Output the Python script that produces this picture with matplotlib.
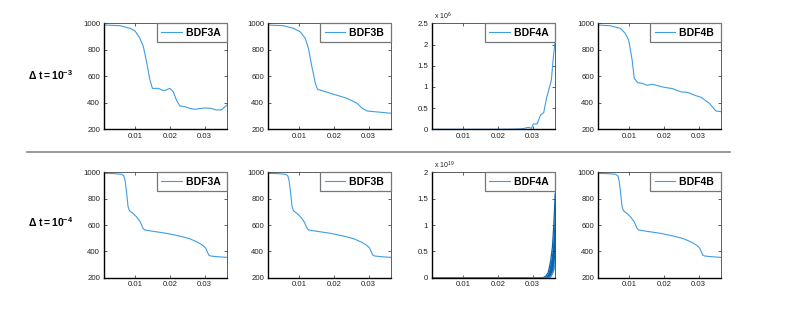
import matplotlib
matplotlib.use("Agg")
import matplotlib.pyplot as plt
from matplotlib.lines import Line2D
from matplotlib.ticker import FormatStrFormatter, FuncFormatter

plt.rcParams['font.family'] = ['Liberation Sans', 'DejaVu Sans']
plt.rcParams['mathtext.fontset'] = 'custom'
plt.rcParams['mathtext.rm'] = 'Liberation Sans'
plt.rcParams['mathtext.bf'] = 'Liberation Sans:bold'
plt.rcParams['mathtext.it'] = 'Liberation Sans:italic'

# ---------------- data ----------------
row_labels = [r'$\mathbf{\Delta\ t{=}10^{-3}}$', r'$\mathbf{\Delta\ t{=}10^{-4}}$']
names = ['BDF3A', 'BDF3B', 'BDF4A', 'BDF4B']
xticks = [0.01, 0.02, 0.03]
yticks_T = [200, 400, 600, 800, 1000]

# dt = 1e-3
t1_bdf3a_x = [0.001, 0.0057, 0.0086, 0.010, 0.0114, 0.0124, 0.0133, 0.0143, 0.0150, 0.0167,
              0.0181, 0.0190, 0.0200, 0.0210, 0.0219, 0.0229, 0.0243, 0.0257, 0.0271, 0.0286,
              0.0300, 0.0319, 0.0333, 0.0348, 0.0365]
t1_bdf3a_y = [987, 982, 962, 942, 887, 824, 711, 572, 509, 509,
              492, 497, 509, 484, 421, 376, 371, 358, 351, 356,
              361, 358, 346, 346, 384]

t1_bdf3b_x = [0.001, 0.0055, 0.0084, 0.0103, 0.0118, 0.0127, 0.0137, 0.0147, 0.0153, 0.0166,
              0.0200, 0.0238, 0.0267, 0.0282, 0.0296, 0.0325, 0.0365]
t1_bdf3b_y = [987, 982, 962, 937, 887, 811, 673, 547, 502, 492,
              464, 434, 396, 358, 338, 331, 321]

t1_bdf4a_x = [0.001, 0.0200, 0.0250, 0.0273, 0.0288, 0.0297, 0.0302, 0.0313, 0.0323, 0.0332,
              0.0340, 0.0354, 0.0359, 0.0365]
t1_bdf4a_y = [0.0, 0.0, 0.005, 0.016, 0.047, 0.024, 0.126, 0.126, 0.338, 0.393,
              0.731, 1.16, 1.64, 2.10]   # x 10^6

t1_bdf4b_x = [0.001, 0.0045, 0.0075, 0.0089, 0.0099, 0.0109, 0.0115, 0.0125, 0.0138, 0.0152,
              0.0167, 0.0201, 0.0225, 0.0250, 0.0268, 0.0292, 0.0307, 0.0331, 0.0350, 0.0365]
t1_bdf4b_y = [987, 982, 962, 925, 874, 723, 585, 552, 547, 532,
              540, 517, 507, 482, 479, 454, 442, 396, 338, 333]

# dt = 1e-4
t2_x = [0.001, 0.0038, 0.0062, 0.0068, 0.0072, 0.0076, 0.0080, 0.0084, 0.0095, 0.0104,
        0.0114, 0.0119, 0.0123, 0.0128, 0.0152, 0.0190, 0.0228, 0.0257, 0.0281, 0.0295,
        0.0303, 0.0308, 0.0312, 0.0317, 0.0334, 0.0365]
t2_bdf3a_y = [992, 990, 985, 972, 930, 840, 740, 708, 686, 663,
              628, 600, 575, 562, 552, 537, 516, 496, 468, 445,
              425, 395, 372, 365, 360, 354]
t2_bdf3b_y = [992, 990, 985, 972, 930, 840, 740, 708, 686, 663,
              628, 600, 575, 562, 552, 537, 516, 496, 468, 445,
              425, 395, 372, 365, 360, 354]
t2_bdf4b_y = [992, 990, 985, 972, 930, 840, 740, 708, 686, 663,
              628, 600, 575, 562, 552, 537, 516, 496, 468, 445,
              425, 395, 372, 365, 360, 354]

t2_bdf4a_x = [0.001, 0.0300, 0.0330, 0.0338, 0.0345, 0.0352, 0.0357, 0.0361, 0.0365]
t2_bdf4a_hi = [0.0, 0.0, 0.0, 0.03, 0.10, 0.32, 0.58, 1.00, 1.60]   # x 10^19
t2_bdf4a_lo = [0.0, 0.0, 0.0, 0.0, 0.0, 0.02, 0.08, 0.15, 0.35]

# ---------------- layout ----------------
W, H = 796, 313
fig = plt.figure(figsize=(W / 100, H / 100), dpi=100)

lefts = [103.7, 267.7, 431.7, 597.7]
width = 123.5
rows = [(23.3, 129.3), (172.3, 277.7)]

line_c = '#3f9de2'
band_c = '#0b62b0'


def make_ax(ri, ci):
    top, bot = rows[ri]
    ax = fig.add_axes([lefts[ci] / W, 1 - bot / H, width / W, (bot - top) / H])
    ax.set_xlim(0.001, 0.0365)
    ax.set_xticks(xticks)
    ax.xaxis.set_major_formatter(FormatStrFormatter('%g'))
    ax.tick_params(direction='in', length=2, width=0.5, labelsize=5.6, pad=2.5,
                   top=True, right=True, colors='#222222')
    for s in ['left', 'bottom']:
        ax.spines[s].set_linewidth(1.0)
        ax.spines[s].set_color('black')
    for s in ['top', 'right']:
        ax.spines[s].set_linewidth(0.6)
        ax.spines[s].set_color('#444444')
    return ax


def add_legend(ax, label):
    h = Line2D([], [], color=line_c, lw=0.8)
    leg = ax.legend([h], [label + ' '], loc='upper right', borderaxespad=0,
                    prop={'weight': 'bold', 'size': 7.5}, handlelength=2.0,
                    handletextpad=0.35, borderpad=0.42, fancybox=False,
                    framealpha=1, edgecolor='#777777')
    leg.get_frame().set_linewidth(0.9)


series_T = {
    (0, 0): (t1_bdf3a_x, t1_bdf3a_y),
    (0, 1): (t1_bdf3b_x, t1_bdf3b_y),
    (0, 3): (t1_bdf4b_x, t1_bdf4b_y),
    (1, 0): (t2_x, t2_bdf3a_y),
    (1, 1): (t2_x, t2_bdf3b_y),
    (1, 3): (t2_x, t2_bdf4b_y),
}

for ri in range(2):
    for ci in range(4):
        ax = make_ax(ri, ci)
        if ci == 2:
            fmt = FuncFormatter(lambda v, p: '%g' % v)
            ax.yaxis.set_major_formatter(fmt)
            if ri == 0:
                ax.plot(t1_bdf4a_x, t1_bdf4a_y, color=line_c, lw=0.8)
                ax.set_ylim(0, 2.5)
                ax.set_yticks([0, 0.5, 1, 1.5, 2, 2.5])
                ax.text(0.02, 1.015, r'x 10$^{6}$', transform=ax.transAxes,
                        fontsize=5, va='bottom', ha='left', color='#222222')
            else:
                ax.fill_between(t2_bdf4a_x, t2_bdf4a_lo, t2_bdf4a_hi, color=band_c, lw=0)
                ax.plot(t2_bdf4a_x, t2_bdf4a_hi, color=band_c, lw=0.9)
                ax.plot(t2_bdf4a_x, t2_bdf4a_lo, color=line_c, lw=0.8)
                ax.set_ylim(0, 2)
                ax.set_yticks([0, 0.5, 1, 1.5, 2])
                ax.text(0.02, 1.015, r'x 10$^{19}$', transform=ax.transAxes,
                        fontsize=5, va='bottom', ha='left', color='#222222')
        else:
            xs, ys = series_T[(ri, ci)]
            ax.plot(xs, ys, color=line_c, lw=0.8)
            ax.set_ylim(200, 1000)
            ax.set_yticks(yticks_T)
        add_legend(ax, names[ci])

# row labels
fig.text(28 / W, 1 - 75 / H, row_labels[0], fontsize=7.5, ha='left', va='center')
fig.text(28 / W, 1 - 222 / H, row_labels[1], fontsize=7.5, ha='left', va='center')

# separator line
fig.add_artist(Line2D([27 / W, 730 / W], [1 - 152 / H, 1 - 152 / H],
                      color='#888888', lw=1.2, transform=fig.transFigure))

fig.savefig('out.png', dpi=100)
